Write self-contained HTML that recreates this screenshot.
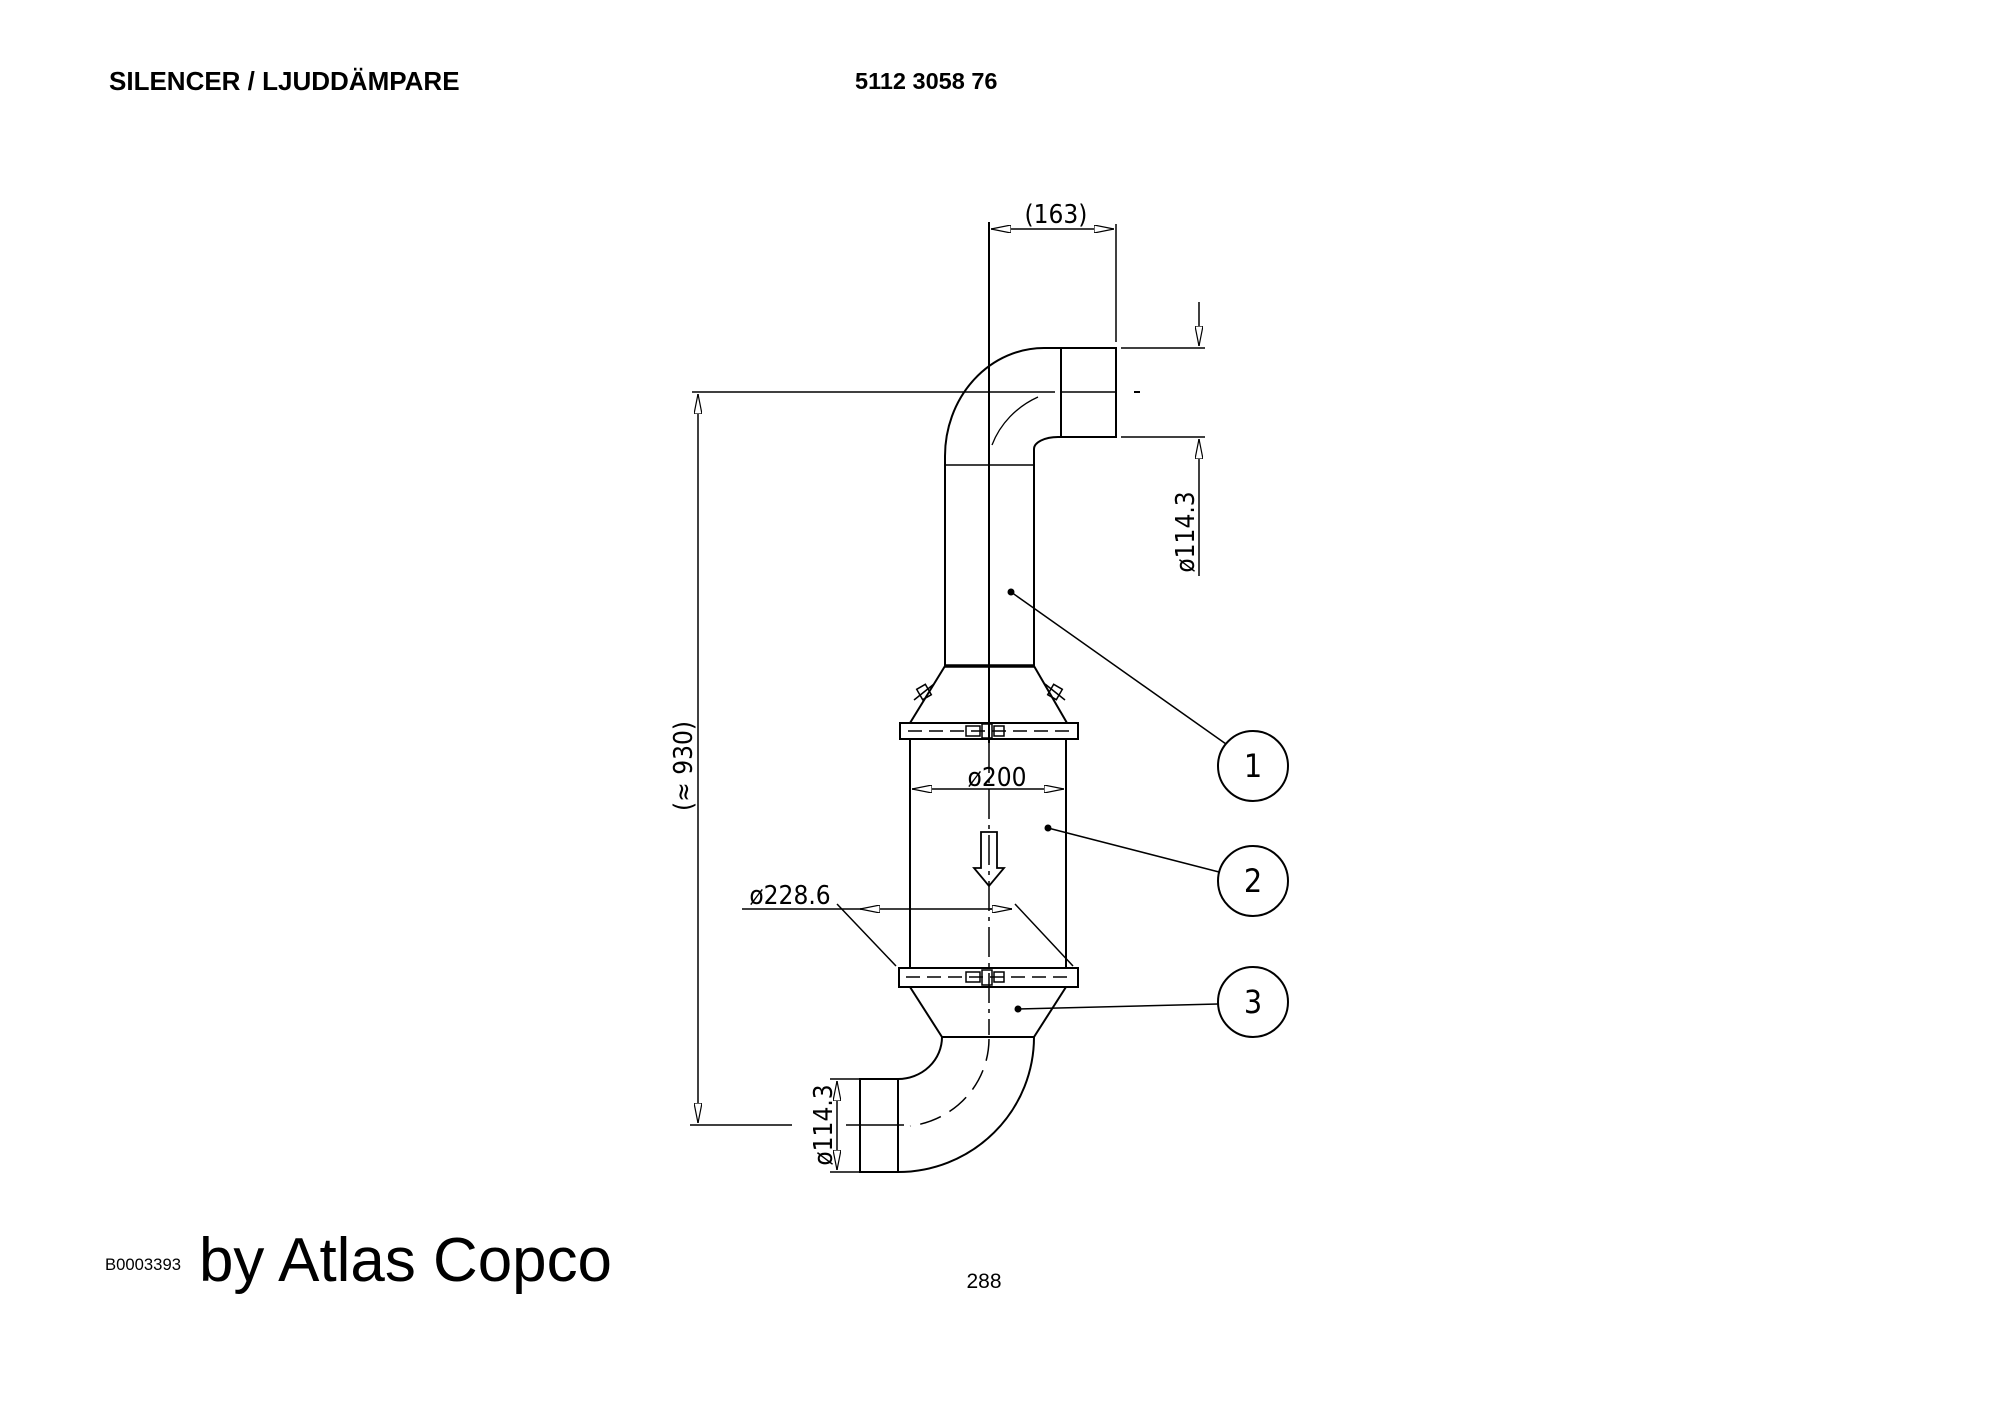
<!DOCTYPE html>
<html><head><meta charset="utf-8"><style>
html,body{margin:0;padding:0;background:#fff;width:2000px;height:1415px;overflow:hidden}
svg{display:block}
</style></head><body>
<svg width="2000" height="1415" viewBox="0 0 2000 1415" xmlns="http://www.w3.org/2000/svg">
<defs>
<marker id="ar" viewBox="0 0 20 8" refX="20" refY="4" markerWidth="20" markerHeight="8" markerUnits="userSpaceOnUse" orient="auto-start-reverse">
<path d="M0,0 L20,4 L0,8 Z" fill="#fff" stroke="#000" stroke-width="1.2"/>
</marker>
</defs>
<g font-family="Liberation Sans, sans-serif" fill="#000">
<text x="109" y="90" font-size="26" font-weight="bold">SILENCER / LJUDDÄMPARE</text>
<text x="855" y="89" font-size="23.5" font-weight="bold">5112 3058 76</text>
<text x="105" y="1270" font-size="17" textLength="76" lengthAdjust="spacingAndGlyphs">B0003393</text>
<text x="199" y="1281" font-size="62" textLength="413" lengthAdjust="spacingAndGlyphs">by Atlas Copco</text>
<text x="984" y="1288" font-size="21" text-anchor="middle">288</text>
</g>
<g stroke="#000" fill="none" stroke-width="2">
<line x1="989" y1="222" x2="989" y2="743"/>
<line x1="989" y1="743" x2="989" y2="1035" stroke-dasharray="30,6,4,6" stroke-width="1.5"/>
<line x1="1116" y1="224" x2="1116" y2="342" stroke-width="1.5"/>
<line x1="991" y1="229" x2="1114" y2="229" stroke-width="1.5" marker-start="url(#ar)" marker-end="url(#ar)"/>
<rect x="1061" y="348" width="55" height="89"/>
<line x1="1061" y1="392" x2="1116" y2="392" stroke-width="1.5"/>
<line x1="1134" y1="392" x2="1140" y2="392"/>
<path d="M1061,348 L1044,348 A99,108 0 0 0 945,456 L945,666"/>
<path d="M1061,437 L1058,437 A24,12 0 0 0 1034,449 L1034,666"/>
<path d="M1038,397 A90,85 0 0 0 992,445" stroke-width="1.3"/>
<line x1="945" y1="465" x2="1034" y2="465" stroke-width="1.5"/>
<line x1="692" y1="392" x2="1055" y2="392" stroke-width="1.5"/>
<line x1="698" y1="394" x2="698" y2="1123" stroke-width="1.5" marker-start="url(#ar)" marker-end="url(#ar)"/>
<line x1="690" y1="1125" x2="792" y2="1125" stroke-width="1.5"/>
<line x1="1121" y1="348" x2="1205" y2="348" stroke-width="1.5"/>
<line x1="1121" y1="437" x2="1205" y2="437" stroke-width="1.5"/>
<line x1="1199" y1="302" x2="1199" y2="346" stroke-width="1.5" marker-end="url(#ar)"/>
<line x1="1199" y1="576" x2="1199" y2="439" stroke-width="1.5" marker-end="url(#ar)"/>
<line x1="945" y1="666" x2="1034" y2="666" stroke-width="3.5"/>
<line x1="945" y1="666" x2="910" y2="723"/>
<line x1="1034" y1="666" x2="1067" y2="723"/>
<g stroke-width="1.5"><rect x="919" y="686" width="10" height="12" transform="rotate(-30 924 692)"/><line x1="914" y1="700" x2="934" y2="684"/>
<rect x="1050" y="686" width="10" height="12" transform="rotate(30 1055 692)"/><line x1="1045" y1="684" x2="1065" y2="700"/></g>
<rect x="900" y="723" width="178" height="16"/>
<line x1="908" y1="731" x2="1072" y2="731" stroke-dasharray="14,7" stroke-width="1.5"/>
<rect x="966" y="726" width="14" height="10" stroke-width="1.5"/><rect x="982" y="724" width="10" height="14" stroke-width="1.5"/><rect x="994" y="726" width="10" height="10" stroke-width="1.5"/>
<line x1="910" y1="739" x2="910" y2="968"/>
<line x1="1066" y1="739" x2="1066" y2="968"/>
<line x1="912" y1="789" x2="1064" y2="789" stroke-width="1.5" marker-start="url(#ar)" marker-end="url(#ar)"/>
<path d="M981,832 L997,832 L997,868 L1004,868 L989,886 L974,868 L981,868 Z" stroke-width="1.8"/>
<line x1="742" y1="909" x2="1012" y2="909" stroke-width="1.5"/>
<line x1="860" y1="909" x2="880" y2="909" stroke-width="1.5" marker-start="url(#ar)"/>
<line x1="990" y1="909" x2="1012" y2="909" stroke-width="1.5" marker-end="url(#ar)"/>
<line x1="837" y1="904" x2="896" y2="966" stroke-width="1.5"/>
<line x1="1015" y1="904" x2="1073" y2="966" stroke-width="1.5"/>
<g transform="translate(0,-5)">
<rect x="899" y="973" width="179" height="19"/>
<line x1="906" y1="982" x2="1072" y2="982" stroke-dasharray="14,7" stroke-width="1.5"/>
<rect x="966" y="977" width="14" height="10" stroke-width="1.5"/><rect x="982" y="975" width="10" height="15" stroke-width="1.5"/><rect x="994" y="977" width="10" height="10" stroke-width="1.5"/>
<line x1="910" y1="992" x2="942" y2="1042"/>
<line x1="1066" y1="992" x2="1034" y2="1042"/>
<line x1="942" y1="1042" x2="1034" y2="1042"/>
</g>
<g transform="translate(0,-9)">
<path d="M942,1046 A44,42 0 0 1 898,1088 L860,1088"/>
<path d="M1034,1046 A136,135 0 0 1 898,1181 L860,1181"/>
<rect x="860" y="1088" width="38" height="93"/>
<path d="M989,1048 A90,88 0 0 1 910,1135" stroke-dasharray="22,10" stroke-width="1.5"/>
<line x1="846" y1="1134" x2="904" y2="1134" stroke-width="1.5"/>
<line x1="837" y1="1134" x2="837" y2="1090" stroke-width="1.5" marker-end="url(#ar)"/>
<line x1="837" y1="1134" x2="837" y2="1179" stroke-width="1.5" marker-end="url(#ar)"/>
<line x1="830" y1="1088" x2="860" y2="1088" stroke-width="1.5"/>
<line x1="830" y1="1181" x2="860" y2="1181" stroke-width="1.5"/>
</g>
<circle cx="1253" cy="766" r="35"/>
<circle cx="1253" cy="881" r="35"/>
<circle cx="1253" cy="1002" r="35"/>
<line x1="1011" y1="592" x2="1226" y2="744" stroke-width="1.5"/>
<line x1="1048" y1="828" x2="1219" y2="872" stroke-width="1.5"/>
<line x1="1018" y1="1009" x2="1218" y2="1004" stroke-width="1.5"/>
</g>
<g fill="#000"><circle cx="1011" cy="592" r="3.5"/><circle cx="1048" cy="828" r="3.5"/><circle cx="1018" cy="1009" r="3.5"/></g>
<g font-family="DejaVu Sans Condensed, DejaVu Sans, sans-serif" fill="#000" font-size="26">
<text x="1056" y="223" text-anchor="middle">(163)</text>
<text x="997" y="786" text-anchor="middle">ø200</text>
<text x="790" y="904" text-anchor="middle">ø228.6</text>
<text transform="translate(1194,532) rotate(-90)" text-anchor="middle">ø114.3</text>
<text transform="translate(832,1125) rotate(-90)" text-anchor="middle">ø114.3</text>
<text transform="translate(692,766) rotate(-90)" text-anchor="middle">(≈ 930)</text>
<text x="1253" y="777" text-anchor="middle" font-size="32">1</text>
<text x="1253" y="892" text-anchor="middle" font-size="32">2</text>
<text x="1253" y="1013" text-anchor="middle" font-size="32">3</text>
</g>
</svg>
</body></html>
